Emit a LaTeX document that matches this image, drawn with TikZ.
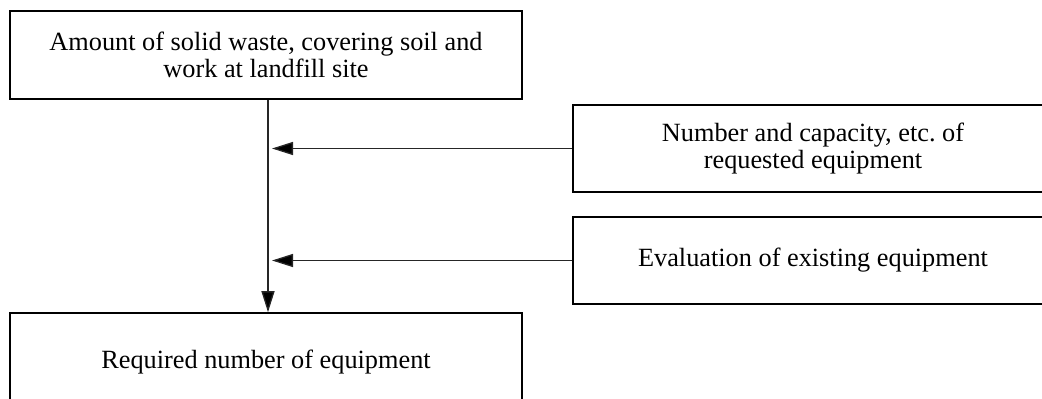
\documentclass[tikz,border=0pt]{standalone}
\usepackage{fontspec}
\setmainfont{Liberation Serif}
\usetikzlibrary{arrows.meta}
\frenchspacing
\begin{document}
\begin{tikzpicture}[x=1pt,y=-1pt,
  box/.style={draw,line width=1.6pt,rectangle,inner sep=0pt,align=center,
    font=\fontsize{26.3}{27.5}\selectfont},
  conn/.style={line width=1.3pt,draw=black!85,-{Triangle[length=21pt,width=13pt,fill=black]}}]
\useasboundingbox (0,0) rectangle (1042,399);
\clip (0,0) rectangle (1042,399);
\node[box,minimum width=512pt,minimum height=88pt] (top) at (266,55)
  {Amount of solid waste, covering soil and\\work at landfill site};
\node[box,minimum width=480pt,minimum height=87pt] (r1) at (813,148.5)
  {Number and capacity, etc. of\\requested equipment};
\node[box,minimum width=480pt,minimum height=87pt] (r2) at (813,260.5)
  {Evaluation of existing equipment};
\node[box,minimum width=512pt,minimum height=99pt] (bot) at (266,362.5)
  {Required number of equipment};
\coordinate (spine) at (268,0);
\coordinate (tipx) at (272,0);
\draw[conn] (top.south -| spine) -- (bot.north -| spine);
\draw[conn] (r1.west) -- (r1.west -| tipx);
\draw[conn] (r2.west) -- (r2.west -| tipx);
\end{tikzpicture}
\end{document}
